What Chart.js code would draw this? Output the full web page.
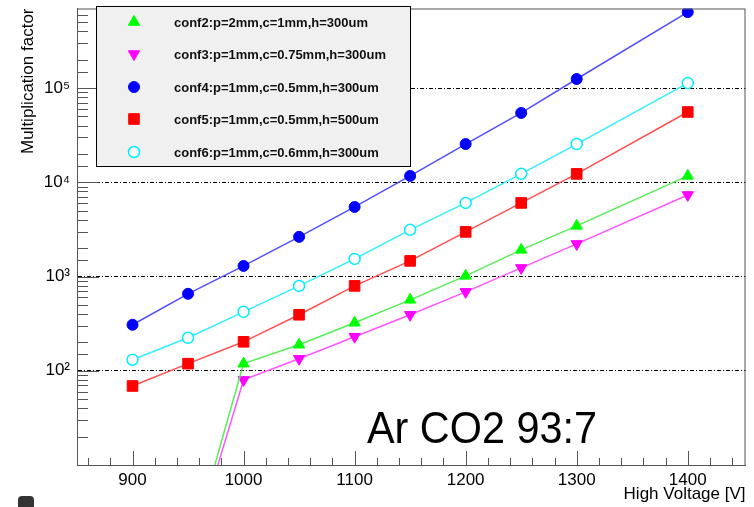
<!DOCTYPE html>
<html>
<head>
<meta charset="utf-8">
<script src="https://cdn.jsdelivr.net/npm/chart.js@4/dist/chart.umd.min.js"></script>
<style>
  html, body { margin: 0; padding: 0; background: #fff; }
  #wrap { position: relative; width: 754px; height: 507px; }
  #blob { position: absolute; left: 18px; top: 496px; width: 16px; height: 11px; background: #333; border-radius: 4px 4px 0 0; }
</style>
</head>
<body>
<div id="wrap">
  <canvas id="chart"></canvas>
  <div id="blob"></div>
</div>
<script>
// voltages (V)
const voltages = [900, 950, 1000, 1050, 1100, 1150, 1200, 1250, 1300, 1400];

// multiplication factor per configuration
// conf2 / conf3 start below the axis at 950 V
const conf2 = [null, 1.0, 119, 189, 323, 566, 1017, 1920, 3450, 11700];
const conf3 = [null, 0.9, 80, 134, 230, 393, 688, 1236, 2220, 7350];
const conf4 = [308, 656, 1297, 2640, 5480, 11700, 25500, 54500, 125000, 641000];
const conf5 = [69, 119, 203, 393, 796, 1466, 2980, 6050, 12300, 55800];
const conf6 = [131, 224, 422, 796, 1540, 3130, 6050, 12300, 25500, 113000];

const labels = [
  "conf2:p=2mm,c=1mm,h=300um",
  "conf3:p=1mm,c=0.75mm,h=300um",
  "conf4:p=1mm,c=0.5mm,h=300um",
  "conf5:p=1mm,c=0.5mm,h=500um",
  "conf6:p=1mm,c=0.6mm,h=300um",
];

const xTitle = "High Voltage [V]";
const yTitle = "Multiplication factor";
const gasText = "Ar CO2 93:7";

function pts(arr) {
  const out = [];
  arr.forEach((v, i) => {
    if (v !== null) out.push({ x: voltages[i], y: v });
  });
  return out;
}

function isDecade(v) {
  const e = Math.log10(v);
  return Math.abs(e - Math.round(e)) < 1e-9;
}

const sup = { "0": "\u2070", "1": "\u00b9", "2": "\u00b2", "3": "\u00b3", "4": "\u2074", "5": "\u2075", "6": "\u2076" };

// ROOT style frame, inner tick marks, legend box and gas label
const rootStyle = {
  id: "rootStyle",
  afterDraw(chart) {
    const ctx = chart.ctx;
    const a = chart.chartArea;
    const xs = chart.scales.x;
    const ys = chart.scales.y;
    ctx.save();
    ctx.setLineDash([]);
    ctx.strokeStyle = "#555";
    ctx.lineWidth = 1;
    // frame
    ctx.strokeRect(a.left + 0.5, a.top + 0.5, a.right - a.left - 1, a.bottom - a.top);
    // y ticks (inside)
    ys.ticks.forEach((t) => {
      if (t.value <= ys.min || t.value >= ys.max) return;
      const y = Math.round(ys.getPixelForValue(t.value)) + 0.5;
      const len = isDecade(t.value) ? 22 : 11;
      ctx.beginPath();
      ctx.moveTo(a.left, y);
      ctx.lineTo(a.left + len, y);
      ctx.stroke();
    });
    // x ticks (inside)
    xs.ticks.forEach((t) => {
      const x = Math.round(xs.getPixelForValue(t.value)) + 0.5;
      const len = t.value % 100 === 0 ? 14 : 7;
      ctx.beginPath();
      ctx.moveTo(x, a.bottom);
      ctx.lineTo(x, a.bottom - len);
      ctx.stroke();
    });

    // legend
    const bx = 96, by = 6, bw = 314, bh = 160;
    ctx.fillStyle = "#f0f0f0";
    ctx.fillRect(bx, by, bw, bh);
    ctx.strokeStyle = "#000";
    ctx.strokeRect(bx + 0.5, by + 0.5, bw, bh);
    const rowY = [22, 54, 87, 119, 152];
    chart.data.datasets.forEach((ds, i) => {
      ctx.lineWidth = ds.pointBorderWidth;
      ctx.strokeStyle = ds.pointBorderColor;
      ctx.fillStyle = ds.pointBackgroundColor;
      Chart.helpers.drawPoint(ctx, {
        pointStyle: ds.pointStyle,
        rotation: ds.pointRotation || 0,
        radius: ds.pointRadius,
        borderWidth: ds.pointBorderWidth,
      }, 134, rowY[i]);
      ctx.fillStyle = "#111";
      ctx.font = "bold 13px 'Liberation Sans', Arial, sans-serif";
      ctx.textBaseline = "middle";
      ctx.textAlign = "left";
      ctx.fillText(ds.label, 174, rowY[i] + 1);
    });

    // gas mixture label
    ctx.fillStyle = "#000";
    ctx.font = "44px 'Liberation Sans', Arial, sans-serif";
    ctx.textBaseline = "alphabetic";
    ctx.translate(367, 443);
    ctx.scale(0.94, 1);
    ctx.fillText(gasText, 0, 0);
    ctx.restore();
  },
};

const ctx = document.getElementById("chart").getContext("2d");
const myChart = new Chart(ctx, {
  type: "line",
  data: {
    datasets: [
      {
        label: labels[0],
        data: pts(conf2),
        borderColor: "#55ee55",
        pointBackgroundColor: "#00ff00",
        pointBorderColor: "#00ff00",
        pointStyle: "triangle",
        pointRadius: 6.5,
        pointBorderWidth: 1,
      },
      {
        label: labels[1],
        data: pts(conf3),
        borderColor: "#ff55ff",
        pointBackgroundColor: "#ff00ff",
        pointBorderColor: "#ff00ff",
        pointStyle: "triangle",
        pointRotation: 180,
        pointRadius: 6.5,
        pointBorderWidth: 1,
      },
      {
        label: labels[2],
        data: pts(conf4),
        borderColor: "#5050ff",
        pointBackgroundColor: "#0000ff",
        pointBorderColor: "#0000ff",
        pointStyle: "circle",
        pointRadius: 5.5,
        pointBorderWidth: 1,
      },
      {
        label: labels[3],
        data: pts(conf5),
        borderColor: "#ff5050",
        pointBackgroundColor: "#ff0000",
        pointBorderColor: "#ff0000",
        pointStyle: "rect",
        pointRadius: 7.5,
        pointBorderWidth: 1,
      },
      {
        label: labels[4],
        data: pts(conf6),
        borderColor: "#33eeff",
        pointBackgroundColor: "#ffffff",
        pointBorderColor: "#00eeff",
        pointStyle: "circle",
        pointRadius: 5.5,
        pointBorderWidth: 1.5,
      },
    ],
  },
  options: {
    responsive: true,
    maintainAspectRatio: false,
    animation: false,
    layout: { padding: { top: 8, right: 3, left: 0, bottom: 0 } },
    elements: { line: { borderWidth: 1.5, tension: 0 } },
    plugins: { legend: { display: false }, tooltip: { enabled: false } },
    scales: {
      x: {
        type: "linear",
        min: 850,
        max: 1452,
        afterFit: (s) => { s.height = 42; s.paddingLeft = 0; s.paddingRight = 0; },
        border: { display: true, color: "#555", width: 1 },
        grid: { display: false, drawTicks: false },
        ticks: {
          stepSize: 20,
          includeBounds: false,
          autoSkip: false,
          maxRotation: 0,
          padding: 5,
          color: "#000",
          font: { family: "'Liberation Sans', Arial, sans-serif", size: 17 },
          callback: (v) => (v % 100 === 0 ? String(v) : ""),
        },
        title: {
          display: true,
          text: xTitle,
          align: "end",
          color: "#000",
          padding: { top: 0, bottom: 2 },
          font: { family: "'Liberation Sans', Arial, sans-serif", size: 17 },
        },
      },
      y: {
        type: "logarithmic",
        min: 10,
        max: 700000,
        bounds: "data",
        afterFit: (s) => { s.width = 77; s.paddingTop = 0; s.paddingBottom = 0; },
        border: { display: true, color: "#555", width: 1, dash: [4, 2, 1, 2] },
        grid: {
          drawTicks: false,
          lineWidth: 1,
          color: (c) => (c.tick && isDecade(c.tick.value) && c.tick.value > 10 && c.tick.value < 700000 ? "#000" : "rgba(0,0,0,0)"),
        },
        ticks: {
          autoSkip: false,
          padding: 7,
          color: "#000",
          font: { family: "'Liberation Sans', Arial, sans-serif", size: 17 },
          callback: (v) => {
            if (!isDecade(v) || v <= 10) return "";
            const e = String(Math.round(Math.log10(v)));
            return "10" + e.split("").map((d) => sup[d]).join("");
          },
        },
        title: {
          display: true,
          text: yTitle,
          align: "end",
          color: "#000",
          padding: { top: 18, bottom: 0 },
          font: { family: "'Liberation Sans', Arial, sans-serif", size: 17 },
        },
      },
    },
  },
  plugins: [rootStyle],
});
</script>
</body>
</html>
